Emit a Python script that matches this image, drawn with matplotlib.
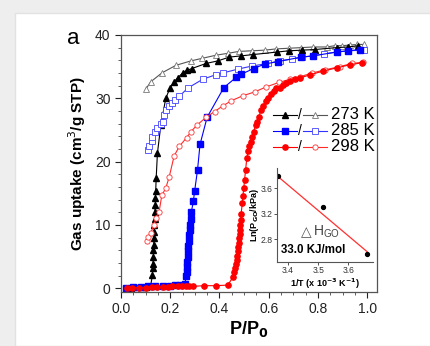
import matplotlib
matplotlib.use("Agg")
import matplotlib.pyplot as plt
from matplotlib.patches import Rectangle
from matplotlib.ticker import MultipleLocator

plt.rcParams["font.family"] = ["Liberation Sans", "DejaVu Sans"]

# 273 K adsorption (filled) / desorption (open)
ads273_x = [0.02, 0.04, 0.06, 0.08, 0.10, 0.12, 0.128, 0.129, 0.130, 0.131, 0.132, 0.133, 0.134, 0.135,
            0.136, 0.137, 0.138, 0.139, 0.140, 0.141, 0.143, 0.148, 0.162, 0.182, 0.199, 0.216, 0.230,
            0.250, 0.268, 0.288, 0.346, 0.393, 0.440, 0.489, 0.536, 0.634, 0.683, 0.737, 0.788, 0.876,
            0.923, 0.964]
ads273_y = [0.1, 0.1, 0.2, 0.2, 0.2, 0.3, 2.1, 3.2, 3.9, 5.0, 6.0, 6.8, 7.9, 8.9,
            10.0, 11.0, 12.1, 13.2, 14.2, 15.3, 17.4, 21.3, 25.8, 30.0, 31.6, 32.6, 33.2,
            34.0, 34.4, 34.7, 35.5, 35.9, 36.5, 36.7, 36.9, 37.3, 37.5, 37.6, 37.7, 38.0,
            38.1, 38.3]
des273_x = [0.100, 0.121, 0.166, 0.223, 0.284, 0.329, 0.386, 0.434, 0.479, 0.533, 0.584, 0.631,
            0.683, 0.733, 0.781, 0.835, 0.869, 0.896, 0.931, 0.958, 0.987]
des273_y = [31.4, 32.6, 34.0, 35.2, 35.9, 36.3, 36.8, 37.1, 37.4, 37.5, 37.6, 37.8,
            37.9, 38.0, 38.1, 38.1, 38.3, 38.3, 38.4, 38.5, 38.5]

# 285 K
ads285_x = [0.02, 0.05, 0.08, 0.11, 0.14, 0.17, 0.20, 0.22, 0.24, 0.26, 0.264, 0.267, 0.268,
            0.269, 0.271, 0.272, 0.273, 0.275, 0.277, 0.279, 0.282, 0.283, 0.286, 0.294, 0.299,
            0.311, 0.321, 0.350, 0.418, 0.468, 0.489, 0.539, 0.584, 0.638, 0.733, 0.781, 0.876,
            0.923, 0.971]
ads285_y = [0.1, 0.2, 0.2, 0.3, 0.3, 0.4, 0.4, 0.5, 0.5, 0.6, 1.9, 2.6, 3.4,
            4.2, 5.0, 5.8, 6.6, 7.4, 8.4, 9.2, 10.0, 11.0, 12.1, 13.7, 15.3,
            18.7, 22.7, 27.0, 31.7, 33.3, 33.8, 34.7, 35.4, 35.8, 36.5, 36.7, 37.3,
            37.5, 37.7]
des285_x = [0.110, 0.114, 0.124, 0.128, 0.138, 0.148, 0.162, 0.169, 0.176, 0.182, 0.196, 0.207,
            0.220, 0.237, 0.271, 0.332, 0.384, 0.414, 0.475, 0.533, 0.597, 0.645, 0.693, 0.737,
            0.781, 0.824, 0.876, 0.923, 0.988]
des285_y = [21.8, 22.5, 23.3, 23.9, 24.6, 25.3, 25.9, 26.3, 27.4, 28.2, 28.7, 29.2,
            29.7, 30.3, 31.6, 33.0, 33.7, 34.0, 34.6, 35.1, 35.5, 35.9, 36.2, 36.5,
            36.7, 37.0, 37.3, 37.5, 37.6]

# 298 K
ads298_x = [0.026, 0.046, 0.073, 0.101, 0.128, 0.148, 0.169, 0.189, 0.209, 0.230, 0.248, 0.264,
            0.278, 0.291, 0.339, 0.387, 0.434, 0.454, 0.461, 0.465, 0.468, 0.471, 0.472, 0.475,
            0.476, 0.479, 0.480, 0.482, 0.483, 0.484, 0.486, 0.488, 0.493, 0.495, 0.499, 0.502,
            0.506, 0.511, 0.516, 0.522, 0.527, 0.533, 0.539, 0.547, 0.552, 0.560, 0.570, 0.577,
            0.588, 0.597, 0.608, 0.620, 0.631, 0.645, 0.658, 0.672, 0.686, 0.706, 0.727, 0.767,
            0.822, 0.876, 0.931, 0.978]
ads298_y = [0.1, 0.1, 0.1, 0.1, 0.2, 0.2, 0.2, 0.2, 0.3, 0.3, 0.3, 0.3,
            0.3, 0.3, 0.4, 0.4, 0.5, 1.7, 2.5, 3.2, 3.8, 4.5, 5.1, 5.8,
            6.5, 7.1, 7.9, 8.6, 9.2, 10.0, 10.8, 11.8, 13.4, 14.5, 15.8, 17.1,
            18.6, 20.5, 21.6, 22.4, 23.1, 23.9, 24.7, 25.8, 26.3, 27.1, 28.2, 28.7,
            29.5, 30.0, 30.7, 31.2, 31.6, 31.7, 32.1, 32.4, 32.7, 33.0, 33.2, 33.7,
            34.3, 34.8, 35.3, 35.6]
des298_x = [0.105, 0.111, 0.121, 0.135, 0.141, 0.155, 0.166, 0.182, 0.196, 0.216, 0.237, 0.267,
            0.284, 0.307, 0.346, 0.380, 0.414, 0.448, 0.495, 0.543, 0.590, 0.642, 0.686, 0.727,
            0.778, 0.829, 0.890, 0.937, 0.985]
des298_y = [7.4, 8.1, 8.8, 10.0, 11.1, 12.1, 14.7, 15.8, 17.6, 20.9, 22.4, 23.8,
            24.7, 25.7, 27.0, 27.9, 28.8, 29.6, 30.4, 31.0, 31.8, 32.5, 33.0, 33.4,
            34.0, 34.5, 35.0, 35.5, 35.7]

# inset: ln(P_GO) vs 1/T
inv_t = [3.365, 3.517, 3.664]
ln_p = [3.80, 3.30, 2.56]
fit_x = [3.365, 3.664]
fit_y = [3.79, 2.60]

temps = ["273 K", "285 K", "298 K"]

fig = plt.figure(figsize=(4.31, 3.46), dpi=100, facecolor="#eeeeee")
fig.patches.append(Rectangle((15 / 431, 0), 1, 1 - 13 / 346, transform=fig.transFigure,
                             facecolor="white", edgecolor="#e2e2e2", lw=1.0, zorder=-5))

ax = fig.add_axes([0.2807, 0.156, 0.594, 0.743])
ax.set_facecolor("white")

ms = 3.8
lw = 0.8
ax.plot(des273_x, des273_y, "-^", color="#555555", lw=lw, ms=ms, mfc="white", mec="#777777", mew=0.6)
ax.plot(ads273_x, ads273_y, "-^", color="black", lw=lw, ms=ms)
ax.plot(des285_x, des285_y, "-s", color="#3333ff", lw=lw, ms=ms, mfc="white", mec="#4444ff", mew=0.6)
ax.plot(ads285_x, ads285_y, "-s", color="#0000ff", lw=lw, ms=ms)
ax.plot(des298_x, des298_y, "-o", color="#ff2a2a", lw=lw, ms=ms, mfc="white", mec="#ff3333", mew=0.6)
ax.plot(ads298_x, ads298_y, "-o", color="#ff0000", lw=lw, ms=ms)

ax.set_xlim(0, 1.04)
ax.set_ylim(-0.6, 40)
ax.xaxis.set_major_locator(MultipleLocator(0.2))
ax.xaxis.set_minor_locator(MultipleLocator(0.05))
ax.yaxis.set_major_locator(MultipleLocator(10))
ax.yaxis.set_minor_locator(MultipleLocator(2))
ax.tick_params(which="major", direction="out", length=4, width=0.8, labelsize=10, colors="#222222")
ax.tick_params(which="minor", direction="out", length=2.5, width=0.6, colors="#444444")
ax.yaxis.set_major_formatter(plt.FuncFormatter(lambda v, p: f"{v:.0f}"))
ax.xaxis.set_major_formatter(plt.FuncFormatter(lambda v, p: f"{v:.1f}"))
for s in ax.spines.values():
    s.set_color("#555555")
    s.set_linewidth(0.9)

ax.set_ylabel("Gas uptake (cm$^3$/g STP)", fontsize=11, fontweight="bold", labelpad=5)
ax.set_xlabel("P/P$_\\mathbf{0}$", fontsize=13, fontweight="bold", labelpad=2)
fig.text(73 / 431, 1 - 38 / 346, "a", fontsize=16, ha="center", va="center")

# legend drawn by hand: filled / open
leg_rows = [
    ("^", "black", "#555555", "#777777"),
    ("s", "#0000ff", "#3333ff", "#4444ff"),
    ("o", "#ff0000", "#ff2a2a", "#ff3333"),
]
for i, (mk, c_fill, c_open_line, c_open_edge) in enumerate(leg_rows):
    yy = 1 - (115 + 15.8 * i - 35) / 257
    x0 = (273 - 121) / 256
    x1 = (297 - 121) / 256
    x2 = (303 - 121) / 256
    x3 = (327 - 121) / 256
    ax.plot([x0, x1], [yy, yy], color=c_fill, lw=lw, transform=ax.transAxes, clip_on=False)
    ax.plot([(x0 + x1) / 2], [yy], mk, color=c_fill, ms=ms, transform=ax.transAxes, clip_on=False)
    ax.text((300 - 121) / 256, yy, "/", fontsize=10, ha="center", va="center", transform=ax.transAxes)
    ax.plot([x2, x3], [yy, yy], color=c_open_line, lw=lw, transform=ax.transAxes, clip_on=False)
    ax.plot([(x2 + x3) / 2], [yy], mk, mfc="white", mec=c_open_edge, mew=0.6, ms=ms,
            transform=ax.transAxes, clip_on=False)
    ax.text((331 - 121) / 256, yy, temps[i], fontsize=12, ha="left", va="center",
            transform=ax.transAxes)

# inset
ins = fig.add_axes([277 / 431, 1 - 262 / 346, 96 / 431, 94 / 346])
ins.set_facecolor("none")
ins.plot(fit_x, fit_y, color="#ff3030", lw=0.9)
ins.plot(inv_t, ln_p, "o", color="black", ms=2.8)
ins.set_xlim(3.363, 3.683)
ins.set_ylim(2.44, 3.92)
ins.xaxis.set_major_locator(MultipleLocator(0.1))
ins.yaxis.set_major_locator(MultipleLocator(0.4))
ins.spines["top"].set_visible(False)
ins.spines["right"].set_visible(False)
for s in ("left", "bottom"):
    ins.spines[s].set_color("#555555")
    ins.spines[s].set_linewidth(0.8)
ins.tick_params(direction="out", length=2, width=0.6, labelsize=6.2, pad=1, colors="#333333")
ins.set_ylabel("Ln(P$_{\\mathbf{GO}}$/kPa)", fontsize=6.5, fontweight="bold")
ins.yaxis.set_label_coords(-0.17, 0.5)
ins.set_xlabel("1/T (x 10$^{\\mathbf{-3}}$ K$^{\\mathbf{-1}}$)", fontsize=6.5, fontweight="bold",
               labelpad=1)
ins.text(0.36, 0.32, "\u25b3", family="DejaVu Sans", fontsize=10, color="#555555",
         ha="right", va="center", transform=ins.transAxes)
ins.text(0.37, 0.32, "H$_{\\mathregular{GO}}$", fontsize=10, color="#444444",
         ha="left", va="center", transform=ins.transAxes)
ins.text(0.38, 0.13, "33.0 KJ/mol", fontsize=8.3, fontweight="bold", ha="center", va="center",
         transform=ins.transAxes)

fig.savefig("out.png", dpi=100, facecolor=fig.get_facecolor())
